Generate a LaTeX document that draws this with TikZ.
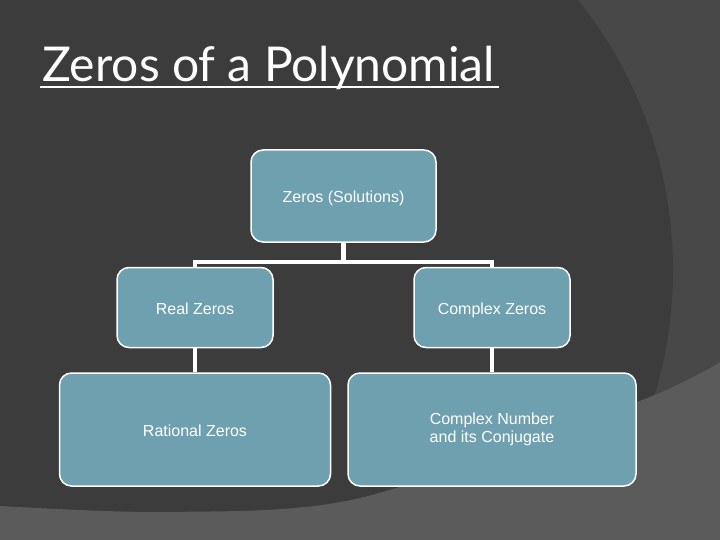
\documentclass[tikz,border=0pt]{standalone}
\usepackage{fontspec}
\setmainfont{Liberation Sans}
\newfontfamily\titlefont{Lato}
\usepackage{xcolor}
\usepackage{tikz}
\usetikzlibrary{positioning}

\definecolor{slatedark}{RGB}{60,60,60}
\definecolor{slatemid}{RGB}{72,72,72}
\definecolor{slatelight}{RGB}{91,91,91}
\definecolor{zerofill}{RGB}{110,160,175}

\tikzset{
  zbox/.style={draw=white, line width=1.5pt, fill=zerofill, rounded corners=12pt,
    text=white, align=center, inner sep=0pt, text height=14pt, text depth=0.6pt,
    font=\fontsize{16}{18}\selectfont},
  zlink/.style={draw=white, line width=4.5pt},
  titletext/.style={text=white, inner sep=0pt, font=\titlefont\fontsize{48}{56}\selectfont}
}

\begin{document}
\begin{tikzpicture}[x=1pt, y=-1pt]
    % Backdrop
    \useasboundingbox (0,0) rectangle (720,540);
    \fill [slatemid] (0,0) rectangle (720,540);
    \begin{scope}
        \clip (0,0) rectangle (720,540);
        \fill [slatedark] (242,270) circle (431pt);
    \end{scope}
    \fill [slatelight] plot [smooth] coordinates {(0,506) (170,512) (360,498) (637,402) (720,362)}
        -- (720,540) -- (0,540) -- cycle;

    % Title
    \node [titletext, anchor=base west] (title) at (42,82) {Zeros of a Polynomial};
    \draw [white, line width=2.5pt] ([xshift=-2pt, yshift=-5pt]title.base west) -- ([xshift=4pt, yshift=-5pt]title.base east);

    % Boxes
    \node [zbox, minimum width=185pt, minimum height=92pt] (sol) at (343.5,196) {Zeros (Solutions)};
    \node [zbox, minimum width=156pt, minimum height=80pt] (real) at (195,307.5) {Real Zeros};
    \node [zbox, minimum width=156pt, minimum height=80pt] (cplx) at (492,307.5) {Complex Zeros};
    \node [zbox, minimum width=271pt, minimum height=113pt] (rat) at (195,429.5) {Rational Zeros};
    \node [zbox, minimum width=288pt, minimum height=113pt, text height={}, text depth={}] (conj) at (492,429.5) {Complex Number\\and its Conjugate};

    % Links
    \draw [zlink] (sol.south) -- ++(0,19) -| (real.north);
    \draw [zlink] (sol.south) -- ++(0,19) -| (cplx.north);
    \draw [zlink] (real.south) -- (rat.north);
    \draw [zlink] (cplx.south) -- (conj.north);
\end{tikzpicture}
\end{document}
